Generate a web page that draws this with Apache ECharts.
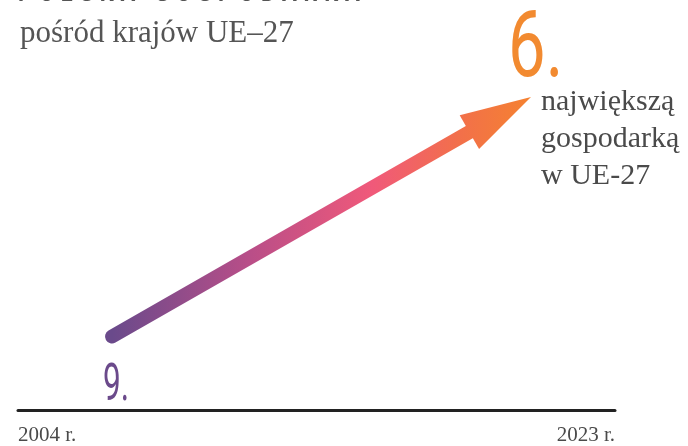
<!DOCTYPE html>
<html><head><meta charset="utf-8">
<script src="https://cdn.jsdelivr.net/npm/echarts@6/dist/echarts.min.js"></script>
<style>html,body{margin:0;padding:0;background:#fff}#c{width:688px;height:446px}</style>
</head><body><div id="c"></div>
<script>
// ---- data ----
const years = ['2004 r.', '2023 r.'];
const ranks = [9, 6];
const rankLabels = ['9.', '6.'];
const noteLines = ['największą', 'gospodarką', 'w UE-27'];
const titleText = 'POLSKA GOSPODARKA';
const subtitleText = 'pośród krajów UE–27';

// ---- style ----
const SERIF = '"Liberation Serif", "DejaVu Serif", serif';
const COND = 'Roboto, "Noto Sans", sans-serif';
const PURPLE = '#6b4a8b';
const ORANGE = '#f28a30';
const GRAY = '#4a4a4a';

const chart = echarts.init(document.getElementById('c'), null, {renderer: 'canvas'});

function renderArrow(params, api) {
  const a = api.coord([api.value(0), api.value(1)]);
  const b = api.coord([api.value(2), api.value(3)]);
  const S = [a[0] + 94, a[1]];
  const T = [b[0] - 84, b[1]];
  const dx = T[0] - S[0], dy = T[1] - S[1];
  const L = Math.sqrt(dx * dx + dy * dy);
  const u = [dx / L, dy / L];
  const n = [-u[1], u[0]];
  const headLen = 71, headHalf = 19.5;
  const B = [T[0] - headLen * u[0], T[1] - headLen * u[1]];
  const E = [T[0] - 60 * u[0], T[1] - 60 * u[1]];
  const grad = {
    type: 'linear', x: S[0], y: 0, x2: T[0], y2: 0, global: true,
    colorStops: [
      {offset: 0, color: '#6a4a8b'},
      {offset: 0.33, color: '#b94e88'},
      {offset: 0.62, color: '#f0597a'},
      {offset: 0.83, color: '#f2704a'},
      {offset: 1, color: '#f58230'}
    ]
  };
  const children = [
    {type: 'line', shape: {x1: S[0], y1: S[1], x2: E[0], y2: E[1]},
     style: {stroke: grad, lineWidth: 14, lineCap: 'round'}},
    {type: 'polygon', shape: {points: [T,
      [B[0] + headHalf * n[0], B[1] + headHalf * n[1]],
      [B[0] - headHalf * n[0], B[1] - headHalf * n[1]]]},
     style: {fill: grad}},
    {type: 'text', x: S[0] - 9, y: S[1] + 51, scaleX: 0.62,
     style: {text: rankLabels[0], x: 0, y: 0, fill: PURPLE, font: '400 51px ' + COND, verticalAlign: 'middle', align: 'left'}},
    {type: 'text', x: T[0] - 23, y: T[1] - 44, scaleX: 0.72,
     style: {text: rankLabels[1], x: 0, y: 0, fill: ORANGE, font: '400 93px ' + COND, verticalAlign: 'middle', align: 'left'}}
  ];
  noteLines.forEach(function (t, i) {
    children.push({type: 'text', x: T[0] + 10, y: T[1] + 5 + i * 37,
      style: {text: t, x: 0, y: 0, fill: GRAY, font: '30px ' + SERIF, verticalAlign: 'middle', align: 'left'}});
  });
  return {type: 'group', children: children};
}

const option = {
  backgroundColor: '#fff',
  animation: false,
  graphic: [
    {type: 'text', x: 18, y: -5,
     style: {text: titleText.split('').join('\u2009\u200A'), x: 0, y: 0, fill: '#555', font: 'bold 22px ' + COND,
       verticalAlign: 'middle', align: 'left'}},
    {type: 'text', left: 20, top: 18,
     style: {text: subtitleText, fill: '#555', font: '31px ' + SERIF}}
  ],
  grid: {left: 18, right: 73, top: 17, bottom: 33},
  xAxis: {
    type: 'category', data: years, boundaryGap: false,
    axisLine: {lineStyle: {color: '#222', width: 3}},
    axisTick: {show: false},
    splitLine: {show: false},
    axisLabel: {fontFamily: SERIF, fontSize: 21, color: GRAY, margin: 15,
      alignMinLabel: 'left', alignMaxLabel: 'right'}
  },
  yAxis: {type: 'value', inverse: true, min: 5, max: 9.92, show: false},
  series: [{
    type: 'custom',
    silent: true,
    clip: false,
    encode: {x: [0, 2], y: [1, 3]},
    data: [[0, ranks[0], 1, ranks[1]]],
    renderItem: renderArrow
  }]
};
chart.setOption(option);
</script>
</body></html>
